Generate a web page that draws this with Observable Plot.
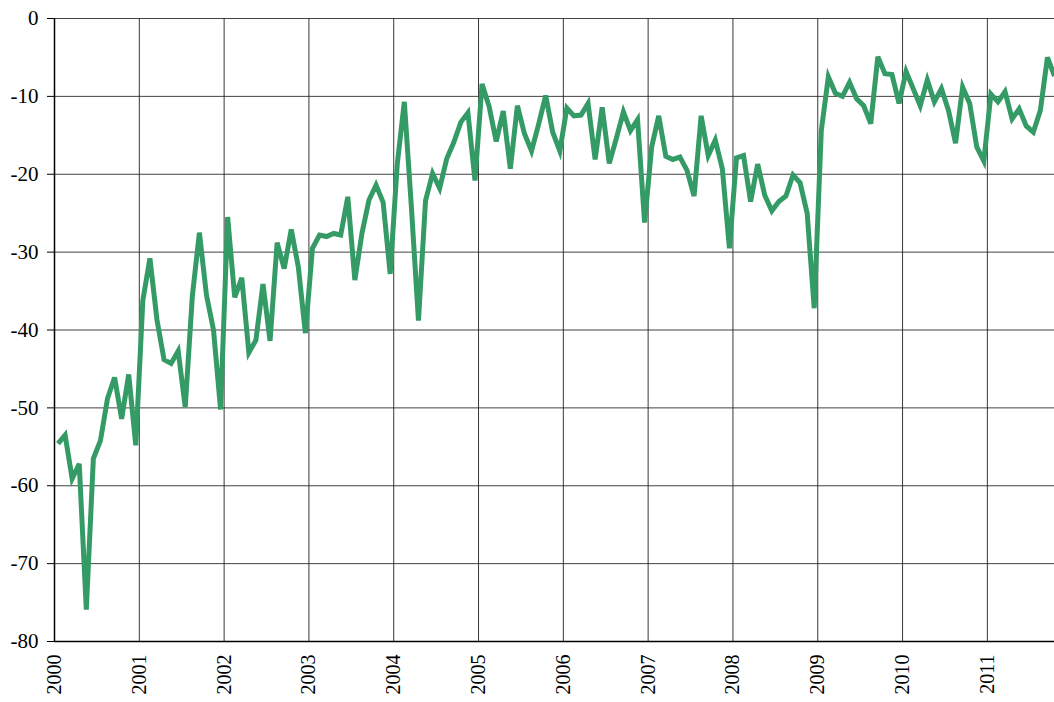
<!DOCTYPE html>
<html>
<head>
<meta charset="utf-8">
<script src="https://cdn.jsdelivr.net/npm/d3@7"></script>
<script src="https://cdn.jsdelivr.net/npm/@observablehq/plot@0.6"></script>
<style>
  html, body { margin: 0; padding: 0; background: #fff; }
  #chart svg { display: block; }
</style>
</head>
<body>
<div id="chart"></div>
<script>
// Monthly values, one array per year (Jan..Dec)
const startYear = 2000;
const v2000 = [-54.6, -53.5, -59.1, -57.2, -75.9, -56.5, -54.2, -48.8, -46.1, -51.4, -45.7, -54.8];
const v2001 = [-36.2, -30.8, -38.7, -43.8, -44.3, -42.7, -49.9, -35.7, -27.5, -35.5, -40.0, -50.2];
const v2002 = [-25.5, -35.8, -33.3, -42.9, -41.3, -34.1, -41.4, -28.8, -32.1, -27.1, -31.9, -40.4];
const v2003 = [-29.5, -27.8, -28.0, -27.6, -27.8, -22.9, -33.6, -27.6, -23.3, -21.4, -23.6, -32.8];
const v2004 = [-18.7, -10.7, -24.2, -38.8, -23.4, -19.9, -21.8, -18.0, -15.9, -13.3, -12.1, -20.8];
const v2005 = [-8.4, -11.3, -15.8, -11.9, -19.3, -11.2, -14.8, -17.0, -13.6, -9.9, -14.6, -17.0];
const v2006 = [-11.5, -12.5, -12.4, -10.9, -18.1, -11.4, -18.6, -15.4, -12.0, -14.4, -13.0, -26.2];
const v2007 = [-16.5, -12.5, -17.7, -18.1, -17.8, -19.5, -22.8, -12.5, -17.6, -15.6, -19.3, -29.5];
const v2008 = [-17.9, -17.6, -23.5, -18.7, -22.7, -24.7, -23.5, -22.8, -20.1, -21.1, -25.0, -37.2];
const v2009 = [-14.4, -7.5, -9.6, -10.0, -8.2, -10.3, -11.2, -13.5, -4.9, -7.1, -7.2, -10.9];
const v2010 = [-6.8, -9.0, -11.2, -7.9, -10.7, -9.0, -11.8, -16.0, -8.8, -10.9, -16.5, -18.3];
const v2011 = [-9.7, -10.7, -9.4, -12.9, -11.6, -13.8, -14.6, -11.8, -5.0, -7.4];

const years = [v2000, v2001, v2002, v2003, v2004, v2005, v2006, v2007, v2008, v2009, v2010, v2011];
const yearTicks = [2000, 2001, 2002, 2003, 2004, 2005, 2006, 2007, 2008, 2009, 2010, 2011];
const valueTicks = [0, -10, -20, -30, -40, -50, -60, -70, -80];

const data = [];
years.forEach((arr, yi) => {
  arr.forEach((v, m) => data.push({t: startYear + yi + (m + 0.5) / 12, v}));
});
const lastT = data[data.length - 1].t;

const chart = Plot.plot({
  width: 1054,
  height: 702,
  marginLeft: 54,
  marginRight: 0,
  marginTop: 18,
  marginBottom: 61,
  style: {fontFamily: "'Liberation Serif', 'Times New Roman', serif", fontSize: "21px", color: "#000", background: "#fff"},
  x: {domain: [2000, lastT], label: null},
  y: {domain: [-80, 0], label: null},
  marks: [
    Plot.gridX(yearTicks, {stroke: "#222", strokeOpacity: 0.9, strokeWidth: 1}),
    Plot.gridY(valueTicks, {stroke: "#222", strokeOpacity: 0.85, strokeWidth: 1}),
    Plot.axisX(yearTicks, {tickFormat: d => String(d), tickRotate: -90, tickSize: 0, tickPadding: 13, label: null, fontSize: 20}),
    Plot.axisY(valueTicks, {tickFormat: d => String(d), tickSize: 7, tickPadding: 9, label: null, fontSize: 21}),
    Plot.ruleX([2000], {stroke: "#000", strokeWidth: 1.5}),
    Plot.ruleY([-80], {stroke: "#000", strokeWidth: 1.5}),
    Plot.line(data, {x: "t", y: "v", stroke: "#359b66", strokeWidth: 5, strokeLinejoin: "miter", strokeMiterlimit: 4, strokeLinecap: "butt"})
  ]
});
document.getElementById("chart").appendChild(chart);
</script>
</body>
</html>
